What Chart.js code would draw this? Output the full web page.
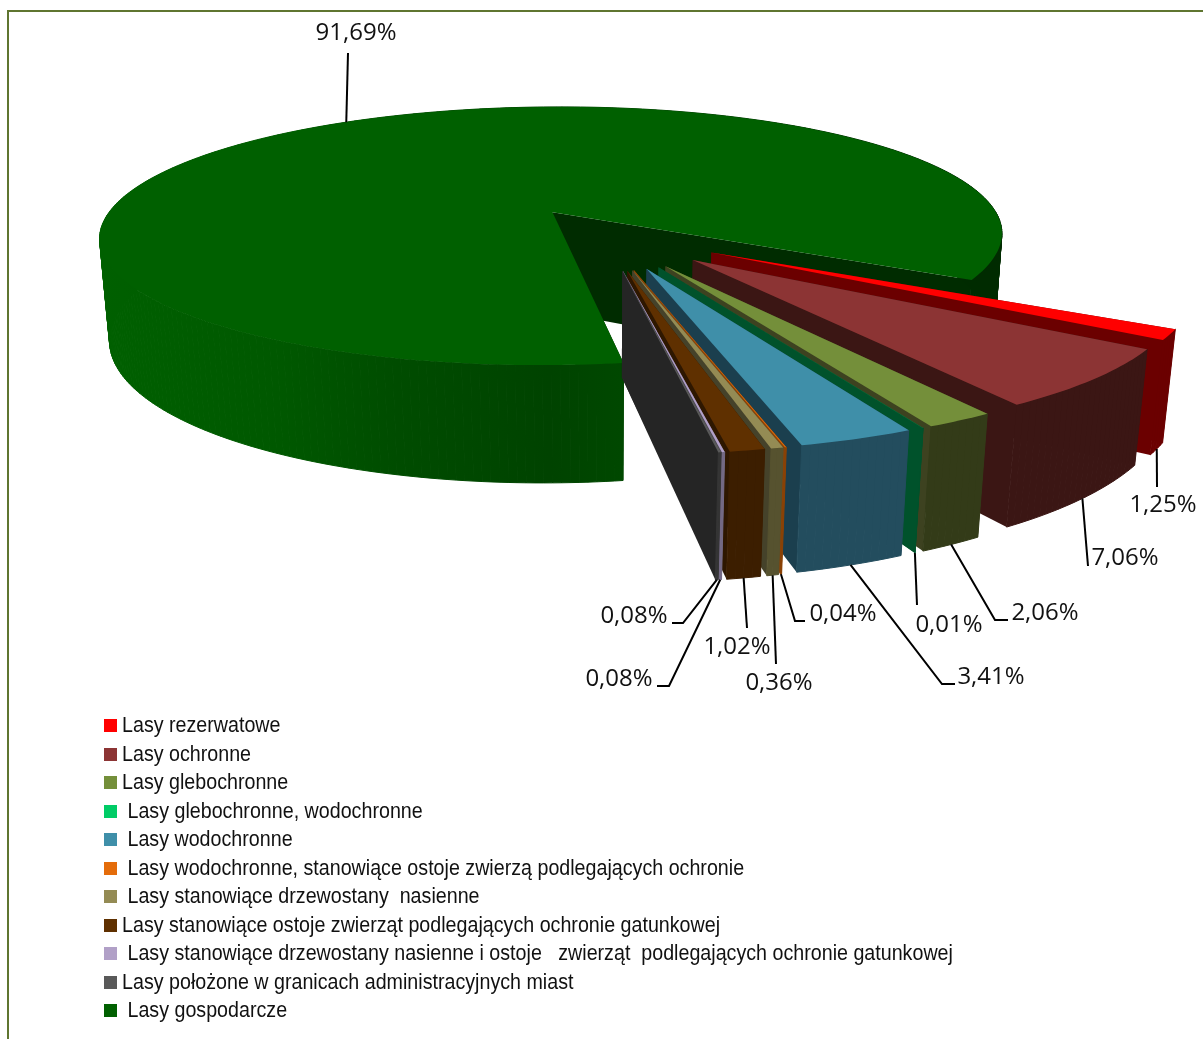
<!DOCTYPE html>
<html lang="pl">
<head>
<meta charset="UTF-8">
<title>Lasy</title>
<script src="https://cdn.jsdelivr.net/npm/chart.js"></script>
<style>
    html, body { margin: 0; padding: 0; background: #fff; overflow: hidden; }
    #page { position: relative; width: 1203px; height: 1039px; overflow: hidden; }
    #frame { position: absolute; left: 7px; top: 10px; width: 1300px; height: 1200px; border: 2px solid #5f7530; }
    #chart { position: absolute; left: 0; top: 0; }
    #legend { position: absolute; left: 104px; top: 711px; margin: 0; padding: 0; list-style: none;
              font: 22px "Liberation Sans", sans-serif; color: #111; }
    #legend li { height: 28.5px; line-height: 28.5px; white-space: pre; }
    #legend i { display: inline-block; width: 13px; height: 13px; margin-right: 5px; vertical-align: 0; }
    /* no narrow face installed, so squeeze the regular one */
    #legend span { display: inline-block; transform: scaleX(0.894); transform-origin: 0 50%; }
</style>
</head>
<body>
<div id="page">
    <div id="frame"></div>
    <canvas id="chart" width="1203" height="1039"></canvas>
    <ul id="legend"></ul>
</div>
<script>
    const categories = [
        'Lasy rezerwatowe',
        'Lasy ochronne',
        'Lasy glebochronne',
        ' Lasy glebochronne, wodochronne',
        ' Lasy wodochronne',
        ' Lasy wodochronne, stanowiące ostoje zwierzą podlegających ochronie',
        ' Lasy stanowiące drzewostany  nasienne',
        'Lasy stanowiące ostoje zwierząt podlegających ochronie gatunkowej',
        ' Lasy stanowiące drzewostany nasienne i ostoje   zwierząt  podlegających ochronie gatunkowej',
        'Lasy położone w granicach administracyjnych miast',
        ' Lasy gospodarcze'
    ];
    const shares = [1.25, 7.06, 2.06, 0.01, 3.41, 0.04, 0.36, 1.02, 0.08, 0.08, 91.69];

    // colours: top face, outer wall, cut face
    const topColors = ['#ff0000', '#8c3434', '#748f3a', '#00cc66', '#3f8fa9', '#e46c0a', '#948b54', '#5f3000', '#b1a0c7', '#595959', '#006000'];
    const wallColors = ['#6b0000', '#3b1614', '#333b18', '#00522b', '#234d5e', '#8a4206', '#56522f', '#3c1e00', '#746a85', '#353535', '#004800'];
    const faceColors = ['#6b0000', '#3b1614', '#3d4220', '#00522b', '#1b3f4e', '#8a4206', '#45422a', '#2e1700', '#5f566d', '#252525', '#002c00'];
    const explode = [125, 125, 125, 125, 125, 125, 125, 125, 125, 125, 90];

    // label placement: text x, text y, then the bend and the end of the leader line
    const labelSpots = [
        [1163, 505, 1157, 487, 1157, 487],
        [1125, 558, 1088, 566, 1088, 566],
        [1045, 613, 995, 620, 1008, 620],
        [949, 625, 917, 605, 917, 605],
        [991, 677, 942, 684, 955, 684],
        [843, 614, 795, 621, 805, 621],
        [779, 683, 776, 664, 776, 664],
        [737, 647, 747, 628, 747, 628],
        [619, 679, 669, 686, 657, 686],
        [634, 616, 683, 623, 672, 623],
        [356, 33, 348, 53, 348, 53]
    ];
    // where along its arc each leader line starts
    const leaderAt = [0.5, 0.5, 0.5, 0.5, 0.5, 0.5, 0.5, 0.5, 0.5, 0.5, 0.503];

    // simple perspective camera for the tilted pie
    const camDist = 2400, tilt = 0.29, wallHeight = 104, wallSink = 48;

    function darken(hex, f) {
        const n = parseInt(hex.slice(1), 16);
        return `rgb(${((n >> 16) & 255) * f | 0},${((n >> 8) & 255) * f | 0},${(n & 255) * f | 0})`;
    }

    const pie3d = {
        id: 'pie3d',
        beforeDatasetsDraw(chart) {
            const ctx = chart.ctx;
            const arcs = chart.getDatasetMeta(0).data;

            function project(el, X, Y, z) {
                const w = 1 / (1 - (Y - z * wallSink) / camDist);
                return [el.x + X * w, el.y + (Y * tilt + z * wallHeight) * w];
            }
            function fillPoly(pts, color, seal) {
                ctx.beginPath();
                pts.forEach((p, i) => i ? ctx.lineTo(p[0], p[1]) : ctx.moveTo(p[0], p[1]));
                ctx.closePath();
                ctx.fillStyle = color;
                ctx.fill();
                if (seal) {
                    ctx.strokeStyle = color;
                    ctx.lineWidth = 1;
                    ctx.stroke();
                }
            }

            // big slice goes first, the rest in data order so each one covers the previous
            const order = arcs.map((a, i) => i).sort((a, b) => (a === 10 ? -1 : b === 10 ? 1 : a - b));
            order.forEach(i => {
                const el = arcs[i];
                const R = el.outerRadius, off = el.options.offset;
                const a0 = el.startAngle, a1 = el.endAngle, mid = (a0 + a1) / 2;
                const ox = Math.cos(mid) * off, oy = Math.sin(mid) * off;
                const steps = Math.max(2, Math.ceil((a1 - a0) * 60));
                const rim = z => {
                    const pts = [];
                    for (let s = 0; s <= steps; s++) {
                        const t = a0 + (a1 - a0) * s / steps;
                        pts.push(project(el, ox + R * Math.cos(t), oy + R * Math.sin(t), z));
                    }
                    return pts;
                };
                const topRim = rim(0), botRim = rim(1);
                const apexTop = project(el, ox, oy, 0), apexBot = project(el, ox, oy, 1);

                // cut faces
                fillPoly([apexTop, topRim[0], botRim[0], apexBot], faceColors[i]);
                fillPoly([apexTop, topRim[steps], botRim[steps], apexBot], faceColors[i]);

                // outer wall, one strip per step so the silhouette stays closed
                let wall = wallColors[i];
                if (i === 10) {
                    wall = ctx.createLinearGradient(100, 0, 1000, 0);
                    wall.addColorStop(0, topColors[i]);
                    wall.addColorStop(0.2, darken(topColors[i], 0.92));
                    wall.addColorStop(0.33, darken(topColors[i], 0.8));
                    wall.addColorStop(0.5, darken(topColors[i], 0.7));
                    wall.addColorStop(0.58, darken(topColors[i], 0.75));
                    wall.addColorStop(0.95, darken(topColors[i], 0.45));
                    wall.addColorStop(1, darken(topColors[i], 0.45));
                }
                for (let s = 0; s < steps; s++) {
                    fillPoly([topRim[s], topRim[s + 1], botRim[s + 1], botRim[s]], wall, true);
                }

                // top
                fillPoly([apexTop].concat(topRim), topColors[i]);
            });

            // leader lines and value labels
            ctx.font = '24px "Open Sans", Lato, sans-serif';
            ctx.textAlign = 'center';
            ctx.textBaseline = 'middle';
            ctx.lineWidth = 2;
            arcs.forEach((el, i) => {
                const R = el.outerRadius, off = el.options.offset;
                const mid = (el.startAngle + el.endAngle) / 2;
                const at = el.startAngle + (el.endAngle - el.startAngle) * leaderAt[i];
                const start = project(el, Math.cos(mid) * off + Math.cos(at) * R, Math.sin(mid) * off + Math.sin(at) * R, i === 10 ? 0 : 1);
                const s = labelSpots[i];
                ctx.strokeStyle = '#000';
                ctx.beginPath();
                ctx.moveTo(start[0], start[1]);
                ctx.lineTo(s[2], s[3]);
                ctx.lineTo(s[4], s[5]);
                ctx.stroke();
                ctx.fillStyle = '#111';
                ctx.fillText(shares[i].toFixed(2).replace('.', ',') + '%', s[0], s[1]);
            });
            return false; // the slices are painted above
        }
    };

    new Chart(document.getElementById('chart'), {
        type: 'pie',
        data: {
            labels: categories,
            datasets: [{
                data: shares,
                backgroundColor: topColors,
                offset: explode,
                borderWidth: 0
            }]
        },
        options: {
            responsive: false,
            animation: false,
            rotation: 119.6,
            radius: 457,
            layout: { padding: { left: 1, bottom: 573 } },
            plugins: { legend: { display: false }, tooltip: { enabled: false } }
        },
        plugins: [pie3d]
    });

    // legend
    const legendEl = document.getElementById('legend');
    categories.forEach((name, i) => {
        const li = document.createElement('li');
        const box = document.createElement('i');
        box.style.background = topColors[i];
        const text = document.createElement('span');
        text.textContent = name;
        li.appendChild(box);
        li.appendChild(text);
        legendEl.appendChild(li);
    });
</script>
</body>
</html>
